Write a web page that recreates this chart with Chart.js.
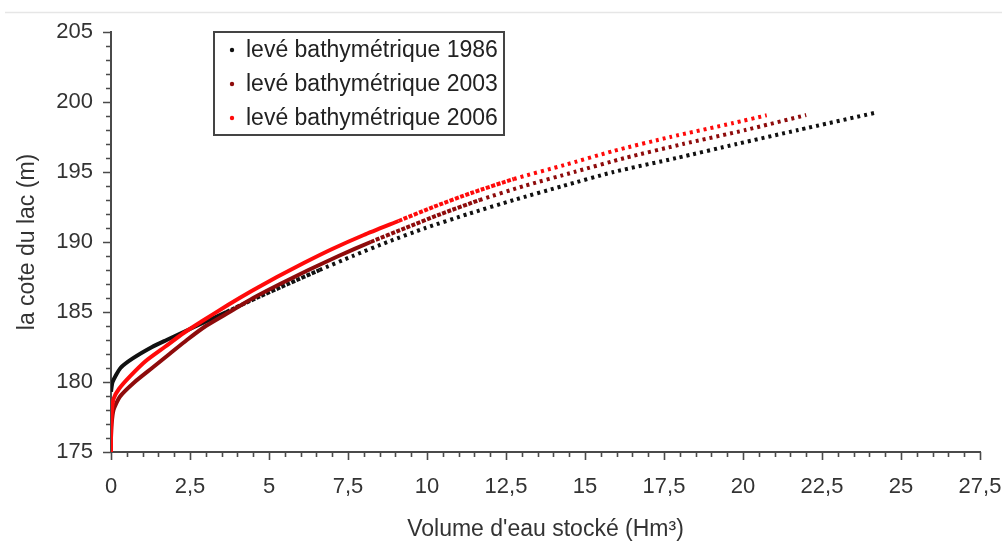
<!DOCTYPE html>
<html>
<head>
<meta charset="utf-8">
<script src="https://cdn.jsdelivr.net/npm/chart.js@4.4.0/dist/chart.umd.min.js"></script>
<style>
html,body{margin:0;padding:0;background:#fff;}
#wrap{width:1002px;height:546px;position:relative;}
</style>
</head>
<body>
<div id="wrap"><canvas id="c" width="1002" height="546"></canvas></div>
<script>
// ---- data ----
const seriesLabels = ['levé bathymétrique 1986', 'levé bathymétrique 2003', 'levé bathymétrique 2006'];

const vol1986  = [0, 0.05, 0.3, 0.7, 1.3, 1.76, 2.7, 3.65, 4.6, 5.6, 6.6, 7.65, 8.75, 9.95, 11.3, 12.75, 14.3, 15.9, 17.9, 19.8, 21.75, 24.2];
const cote1986 = [179.3, 180, 181, 181.7, 182.5, 183, 184, 185, 186, 187, 188, 189, 190, 191, 192, 193, 194, 195, 196, 197, 198, 199.24];

const vol2003  = [0, 0, 0.02, 0.08, 0.28, 0.75, 1.3, 1.85, 2.4, 3.0, 3.75, 4.5, 5.35, 6.25, 7.2, 8.22, 9.32, 10.44, 11.67, 13.07, 14.66, 16.26, 18.1, 20.08, 22.0];
const cote2003 = [175, 176, 177, 178, 178.95, 180, 181, 182, 183, 184, 185, 186, 187, 188, 189, 190, 191, 192, 193, 194, 195, 196, 197, 198, 199.07];

const vol2006  = [0, 0, 0.01, 0.03, 0.08, 0.25, 0.6, 1.1, 1.7, 2.3, 2.85, 3.7, 4.45, 5.25, 6.1, 7.0, 8.0, 9.1, 10.2, 11.4, 12.75, 14.35, 15.9, 17.7, 19.7, 20.75];
const cote2006 = [175, 176, 177, 178, 178.8, 179.5, 180.4, 181.5, 182.5, 183.5, 184.3, 185.5, 186.5, 187.5, 188.5, 189.5, 190.5, 191.5, 192.5, 193.5, 194.5, 195.5, 196.5, 197.5, 198.5, 199.05];

const xMajorTicks = [0, 2.5, 5, 7.5, 10, 12.5, 15, 17.5, 20, 22.5, 25, 27.5];
const xTickLabels = ['0', '2,5', '5', '7,5', '10', '12,5', '15', '17,5', '20', '22,5', '25', '27,5'];
const yMajorTicks = [175, 180, 185, 190, 195, 200, 205];
const yTickLabels = ['175', '180', '185', '190', '195', '200', '205'];

// ---- styling ----
const colors = ['#111111', '#8e0b0b', '#ff0a0a'];
const softDashFrom = [3.5, 7.5, 9];
const dashFrom = [6, 11, 12.5];
const FONT = "'Liberation Sans', Arial, sans-serif";

function pts(xs, ys) { return xs.map((x, i) => ({x: x, y: ys[i]})); }
const dataSets = [pts(vol1986, cote1986), pts(vol2003, cote2003), pts(vol2006, cote2006)];

function findLabel(v, majors, labels) {
  for (let i = 0; i < majors.length; i++) if (Math.abs(v - majors[i]) < 1e-6) return labels[i];
  return '';
}

const tickPlugin = {
  id: 'tickMarks',
  beforeDraw(chart) {
    const ctx = chart.ctx;
    ctx.save();
    ctx.strokeStyle = '#e6e6e6';
    ctx.lineWidth = 1.5;
    ctx.beginPath();
    ctx.moveTo(5, 12.5);
    ctx.lineTo(1002, 12.5);
    ctx.stroke();
    ctx.restore();
  },
  afterDraw(chart) {
    const ctx = chart.ctx;
    const xs = chart.scales.x, ys = chart.scales.y;
    ctx.save();
    ctx.strokeStyle = '#4a4a4a';
    ctx.lineWidth = 1.6;
    ctx.beginPath();
    xs.ticks.forEach(t => {
      const px = Math.round(xs.getPixelForValue(t.value)) + 0.5;
      const major = findLabel(t.value, xMajorTicks, xTickLabels) !== '';
      ctx.moveTo(px, ys.bottom);
      ctx.lineTo(px, ys.bottom + (major ? 8 : 5));
    });
    ys.ticks.forEach(t => {
      const py = Math.round(ys.getPixelForValue(t.value)) + 0.5;
      const major = findLabel(t.value, yMajorTicks, yTickLabels) !== '';
      ctx.moveTo(xs.left, py);
      ctx.lineTo(xs.left - (major ? 8 : 5), py);
    });
    ctx.stroke();

    // legend box
    const bx = 214, by = 32, bw = 290, bh = 103;
    ctx.strokeStyle = '#444';
    ctx.lineWidth = 2;
    ctx.strokeRect(bx, by, bw, bh);
    ctx.font = '23px ' + FONT;
    ctx.textBaseline = 'middle';
    ctx.textAlign = 'left';
    const rows = [50, 84, 118];
    chart.data.datasets.forEach((ds, i) => {
      ctx.fillStyle = ds.borderColor;
      ctx.beginPath();
      ctx.arc(232, rows[i], 2.2, 0, Math.PI * 2);
      ctx.fill();
      ctx.fillStyle = '#222';
      ctx.fillText(ds.label, 246, rows[i] + 1);
    });
    ctx.restore();
  }
};

new Chart(document.getElementById('c'), {
  type: 'line',
  data: {
    datasets: dataSets.map((d, i) => ({
      label: seriesLabels[i],
      data: d,
      borderColor: colors[i],
      backgroundColor: colors[i],
      borderWidth: 4,
      pointRadius: 0,
      tension: 0.2,
      fill: false,
      order: 3 - i,
      segment: {
        borderDash: ctx => (ctx.p0.parsed.x >= dashFrom[i] ? [3, 4] :
                            ctx.p0.parsed.x >= softDashFrom[i] ? [4, 1.5] : undefined)
      }
    }))
  },
  options: {
    responsive: false,
    animation: false,
    devicePixelRatio: 1,
    layout: {padding: {top: 32, right: 0, left: 0, bottom: 0}},
    plugins: {legend: {display: false}, tooltip: {enabled: false}},
    scales: {
      x: {
        type: 'linear',
        min: 0, max: 27.5,
        grid: {display: false, drawTicks: false},
        border: {display: true, color: '#4a4a4a', width: 2},
        ticks: {
          stepSize: 0.5, autoSkip: false, maxRotation: 0, padding: 22,
          color: '#333', font: {family: FONT, size: 22},
          callback: v => findLabel(v, xMajorTicks, xTickLabels)
        },
        title: {display: true, text: "Volume d'eau stocké (Hm³)", color: '#333',
                font: {family: FONT, size: 23}, padding: {top: 0, bottom: 3}},
        afterFit: s => { s.height = 94; s.paddingRight = 22; s.paddingLeft = 0; }
      },
      y: {
        type: 'linear',
        min: 175, max: 205,
        grid: {display: false, drawTicks: false},
        border: {display: true, color: '#4a4a4a', width: 2},
        ticks: {
          stepSize: 1, autoSkip: false, padding: 18,
          color: '#333', font: {family: FONT, size: 22},
          callback: v => findLabel(v, yMajorTicks, yTickLabels)
        },
        title: {display: true, text: 'la cote du lac (m)', color: '#333',
                font: {family: FONT, size: 23}, padding: {top: 14, bottom: 0}},
        afterFit: s => { s.width = 111; s.paddingTop = 0; s.paddingBottom = 0; }
      }
    }
  },
  plugins: [tickPlugin]
});
</script>
</body>
</html>
